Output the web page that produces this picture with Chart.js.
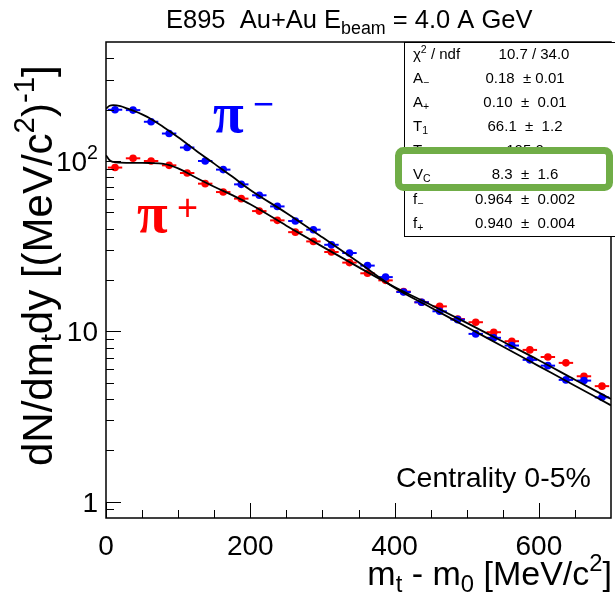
<!DOCTYPE html>
<html>
<head>
<meta charset="utf-8">
<script src="https://cdn.jsdelivr.net/npm/chart.js@4"></script>
<style>
  html, body { margin: 0; padding: 0; background: #fff; }
  #wrap { width: 615px; height: 606px; }
</style>
</head>
<body>
<div id="wrap"><canvas id="espectro" width="615" height="606"></canvas></div>
<script>
// centros dos bins em mt - m0 (MeV/c2)
const mtBins = [12.5, 37.5, 62.5, 87.5, 112.5, 137.5, 162.5, 187.5, 212.5, 237.5, 262.5, 287.5, 312.5, 337.5,
                362.5, 387.5, 412.5, 437.5, 462.5, 487.5, 512.5, 537.5, 562.5, 587.5, 612.5, 637.5, 662.5, 687.5];
const halfBin = 10;

// dN/dmt dy medidos
const piMinus = [200, 199, 170, 145, 120, 100, 89.0, 72.9, 62.9, 54.1, 44.4, 39.5, 32.2, 28.8,
                 24.3, 20.8, 17.0, 14.8, 13.1, 11.7, 9.65, 9.15, 8.24, 6.79, 6.28, 5.18, 5.13, 4.09];
const piPlus  = [91.5, 103.7, 100, 94.3, 85.0, 73.6, 65.7, 60.1, 50.8, 44.8, 38.2, 33.7, 29.2, 25.3,
                 21.9, 19.9, 17.1, 14.8, 14.0, 11.8, 11.3, 9.87, 8.74, 7.77, 7.06, 6.52, 5.44, 4.76];

// curvas do ajuste simultaneo
const fitX     = [0, 5, 10, 20, 30, 40, 50, 60, 80, 100, 125, 150, 175, 200, 250, 300, 350, 400, 450, 500, 550, 600, 650, 700];
const fitMinus = [203, 211, 213, 210, 203, 196, 188, 179, 158, 138, 115, 96.5, 81, 67.6, 49.5, 35.6, 25.4, 18.0, 13.8, 10.6, 8.13, 6.24, 4.79, 3.67];
const fitPlus  = [108, 101, 98.8, 97.8, 97.5, 97.4, 97.4, 97.3, 96.3, 90.6, 79.8, 70.6, 63.0, 55.7, 41.7, 31.4, 23.8, 18.2, 14.3, 11.2, 8.7, 6.76, 5.19, 4.0];

// eixos
const xMajor = [0, 200, 400, 600];
const xMinor = [50, 100, 150, 250, 300, 350, 450, 500, 550, 650];
const yMajor = [1, 10, 100];
const yMinor = [0.9, 2, 3, 4, 5, 6, 7, 8, 9, 20, 30, 40, 50, 60, 70, 80, 90, 200, 300, 400];
const yLabels = [[['1', '']], [['10', '']], [['10', ''], ['2', 'sup']]];

// caixa de parametros do ajuste
const statNames = [
  [['χ', ''], ['2', 'sup'], [' / ndf', '']],
  [['A', ''], ['−', 'sub']],
  [['A', ''], ['+', 'sub']],
  [['T', ''], ['1', 'sub']],
  [['T', ''], ['2', 'sub']],
  [['V', ''], ['C', 'sub']],
  [['f', ''], ['−', 'sub']],
  [['f', ''], ['+', 'sub']]
];
const statValues = ['10.7 / 34.0', '0.18  ± 0.01', '0.10  ±  0.01', '66.1  ±  1.2', '105.0', '8.3  ±  1.6', '0.964  ±  0.002', '0.940  ±  0.004'];

const SANS = '"Liberation Sans", Arial, sans-serif';

function richWidth(ctx, segs, size) {
  let w = 0;
  segs.forEach(([t, m]) => {
    ctx.font = (m ? size * 0.7 : size) + 'px ' + SANS;
    w += ctx.measureText(t).width;
  });
  return w;
}

function drawRich(ctx, segs, x, y, size, align) {
  const w = richWidth(ctx, segs, size);
  let cx = align === 'right' ? x - w : align === 'center' ? x - w / 2 : x;
  ctx.textAlign = 'left';
  ctx.textBaseline = 'alphabetic';
  segs.forEach(([t, m]) => {
    const s = m ? size * 0.7 : size;
    const dy = m === 'sub' ? size * 0.22 : m === 'sup' ? -size * 0.42 : 0;
    ctx.font = s + 'px ' + SANS;
    ctx.fillText(t, cx, y + dy);
    cx += ctx.measureText(t).width;
  });
}

const estiloRoot = {
  id: 'estiloRoot',
  beforeDatasetDraw(chart, args) {
    const ds = chart.data.datasets[args.index];
    if (!ds.errX) return;
    const ctx = chart.ctx, xs = chart.scales.x, ys = chart.scales.y;
    ctx.save();
    ctx.strokeStyle = ds.backgroundColor;
    ctx.lineWidth = 2;
    ds.data.forEach(p => {
      const py = ys.getPixelForValue(p.y);
      ctx.beginPath();
      ctx.moveTo(xs.getPixelForValue(p.x - ds.errX), py);
      ctx.lineTo(xs.getPixelForValue(p.x + ds.errX), py);
      ctx.stroke();
    });
    ctx.restore();
  },
  afterDraw(chart) {
    const ctx = chart.ctx, a = chart.chartArea;
    const xs = chart.scales.x, ys = chart.scales.y;
    ctx.save();

    // moldura
    ctx.strokeStyle = '#000';
    ctx.lineWidth = 1.5;
    ctx.strokeRect(a.left, a.top, a.right - a.left, a.bottom - a.top);

    // marcas para dentro
    ctx.lineWidth = 1;
    const tickX = (v, len) => {
      const px = Math.round(xs.getPixelForValue(v)) + 0.5;
      ctx.beginPath(); ctx.moveTo(px, a.bottom); ctx.lineTo(px, a.bottom - len); ctx.stroke();
    };
    const tickY = (v, len) => {
      const py = Math.round(ys.getPixelForValue(v)) + 0.5;
      ctx.beginPath(); ctx.moveTo(a.left, py); ctx.lineTo(a.left + len, py); ctx.stroke();
    };
    xMajor.forEach(v => tickX(v, 15));
    xMinor.forEach(v => tickX(v, 8));
    yMajor.forEach(v => tickY(v, 15));
    yMinor.forEach(v => tickY(v, 8));

    ctx.fillStyle = '#000';
    // rotulos dos eixos
    ctx.font = '28px ' + SANS;
    ctx.textAlign = 'center';
    ctx.textBaseline = 'alphabetic';
    xMajor.forEach(v => ctx.fillText(String(v), xs.getPixelForValue(v), 555));
    yMajor.forEach((v, i) => drawRich(ctx, yLabels[i], 98, ys.getPixelForValue(v) + 10, 28, 'right'));

    // titulos dos eixos
    drawRich(ctx, [['m', ''], ['t', 'sub'], [' - m', ''], ['0', 'sub'], [' [MeV/c', ''], ['2', 'sup'], [']', '']], 612, 585, 34, 'right');
    ctx.save();
    ctx.translate(52, 466);
    ctx.rotate(-Math.PI / 2);
    drawRich(ctx, [['dN/dm', ''], ['t', 'sub'], ['dy [(MeV/c', ''], ['2', 'sup'], [')', ''], ['-1', 'sup'], [']', '']], 0, 0, 42, 'left');
    ctx.restore();

    // titulo
    drawRich(ctx, [['E895  Au+Au E', ''], ['beam', 'sub'], [' = 4.0 A GeV', '']], 166, 28, 25.5, 'left');

    // identificacao das especies
    ctx.fillStyle = '#0000ff';
    ctx.font = 'bold 56px "Liberation Serif", serif';
    ctx.textAlign = 'left';
    ctx.fillText('π', 213, 132);
    ctx.font = '36px ' + SANS;
    ctx.textAlign = 'center';
    ctx.fillText('−', 263.5, 116);
    ctx.fillStyle = '#ff0000';
    ctx.font = 'bold 56px "Liberation Serif", serif';
    ctx.textAlign = 'left';
    ctx.fillText('π', 137, 232);
    ctx.font = '36px ' + SANS;
    ctx.textAlign = 'center';
    ctx.fillText('+', 187.5, 220);

    ctx.fillStyle = '#000';
    ctx.font = '28.5px ' + SANS;
    ctx.textAlign = 'left';
    ctx.fillText('Centrality 0-5%', 396, 487);

    // caixa de estatisticas
    ctx.fillStyle = '#fff';
    ctx.fillRect(404, a.top, 615 - 404, 236 - a.top);
    ctx.strokeStyle = '#000';
    ctx.lineWidth = 1;
    ctx.strokeRect(404.5, a.top + 0.5, 615 - 404, 236 - a.top);
    const rowY = [59, 83, 107, 131, 155, 179, 204, 228];
    ctx.fillStyle = '#000';
    statNames.forEach((segs, i) => {
      drawRich(ctx, segs, 413, rowY[i], 15, 'left');
      ctx.font = '15px ' + SANS;
      ctx.textAlign = 'center';
      ctx.fillText(statValues[i], i === 0 ? 534 : 525, rowY[i]);
    });

    // destaque verde em V_C
    ctx.beginPath();
    ctx.roundRect(398.5, 150.5, 211, 37, 5);
    ctx.fillStyle = '#fff';
    ctx.fill();
    ctx.strokeStyle = '#70ad47';
    ctx.lineWidth = 7;
    ctx.stroke();
    ctx.fillStyle = '#000';
    drawRich(ctx, statNames[5], 413, rowY[5], 15, 'left');
    ctx.font = '15px ' + SANS;
    ctx.textAlign = 'center';
    ctx.fillText(statValues[5], 525, rowY[5]);

    ctx.restore();
  }
};

const pontos = (xs, ys) => xs.map((x, i) => ({ x: x, y: ys[i] }));

new Chart(document.getElementById('espectro'), {
  type: 'scatter',
  data: {
    datasets: [
      { data: pontos(fitX, fitMinus), showLine: true, borderColor: '#000', borderWidth: 1.8, pointRadius: 0,
        cubicInterpolationMode: 'monotone', order: 0 },
      { data: pontos(fitX, fitPlus), showLine: true, borderColor: '#000', borderWidth: 1.8, pointRadius: 0,
        cubicInterpolationMode: 'monotone', order: 0 },
      { data: pontos(mtBins, piMinus), backgroundColor: '#0000ff', pointRadius: 3.8, pointBorderWidth: 0,
        errX: halfBin, order: 1 },
      { data: pontos(mtBins, piPlus), backgroundColor: '#ff0000', pointRadius: 3.8, pointBorderWidth: 0,
        errX: halfBin, order: 2 }
    ]
  },
  options: {
    responsive: false,
    animation: false,
    devicePixelRatio: 1,
    layout: { padding: { top: 42, right: 1, left: 0, bottom: 0 } },
    plugins: { legend: { display: false }, tooltip: { enabled: false } },
    scales: {
      x: {
        type: 'linear', min: 0, max: 700,
        grid: { display: false }, border: { display: false }, ticks: { display: false },
        afterFit(s) { s.height = 88; }
      },
      y: {
        type: 'logarithmic', min: 0.8, max: 500,
        grid: { display: false }, border: { display: false }, ticks: { display: false },
        afterFit(s) { s.width = 106; }
      }
    }
  },
  plugins: [estiloRoot]
});
</script>
</body>
</html>
